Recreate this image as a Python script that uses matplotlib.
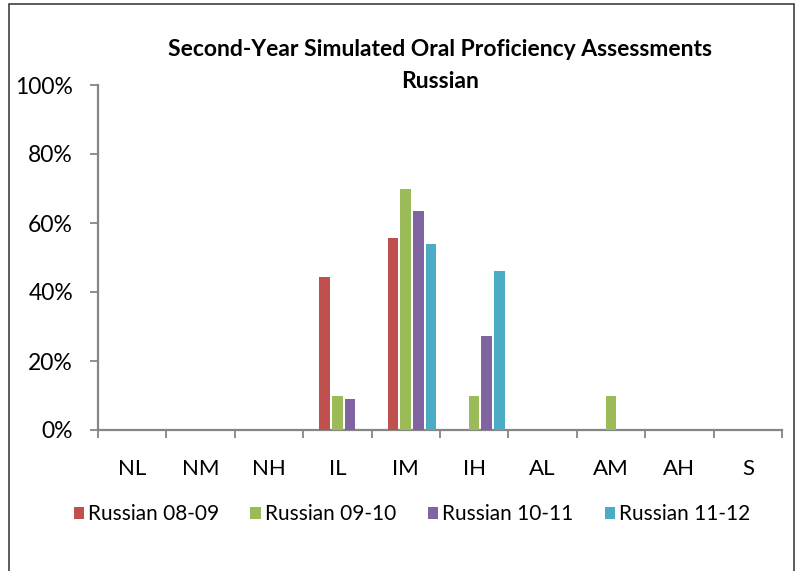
import matplotlib
matplotlib.use("Agg")
import matplotlib.pyplot as plt
from matplotlib.patches import Rectangle
from matplotlib.ticker import PercentFormatter, FixedLocator
import numpy as np

categories = ["NL", "NM", "NH", "IL", "IM", "IH", "AL", "AM", "AH", "S"]
series_names = ["Russian 08-09", "Russian 09-10", "Russian 10-11", "Russian 11-12"]
russian_08_09 = [0, 0, 0, 44.4, 55.6, 0, 0, 0, 0, 0]
russian_09_10 = [0, 0, 0, 10.0, 70.0, 10.0, 0, 10.0, 0, 0]
russian_10_11 = [0, 0, 0, 9.1, 63.6, 27.3, 0, 0, 0, 0]
russian_11_12 = [0, 0, 0, 0, 53.8, 46.2, 0, 0, 0, 0]
colors = ["#C0504D", "#9BBB59", "#8064A2", "#4BACC6"]

FONT = "Lato"
W, H = 801, 571
fig = plt.figure(figsize=(W / 100, H / 100), dpi=100)
ax = fig.add_axes([98 / W, 1 - 430 / H, (782 - 98) / W, (430 - 85) / H])

x = np.arange(len(categories))
pitch = 0.184
width = 0.155
shift = 0.09
all_series = [russian_08_09, russian_09_10, russian_10_11, russian_11_12]
for j, (vals, col, name) in enumerate(zip(all_series, colors, series_names)):
    ax.bar(x + (j - 1.5) * pitch + shift, vals, width=width, color=col,
           label=name, zorder=3)

ax.set_xlim(-0.5, len(categories) - 0.5)
ax.set_ylim(0, 100)
ax.set_yticks([0, 20, 40, 60, 80, 100])
ax.yaxis.set_major_formatter(PercentFormatter(decimals=0))
ax.set_xticks(x)
ax.set_xticklabels(categories)
ax.xaxis.set_minor_locator(FixedLocator(np.arange(-0.5, len(categories), 1.0)))

axis_col = "#868686"
for s in ["top", "right"]:
    ax.spines[s].set_visible(False)
for s in ["left", "bottom"]:
    ax.spines[s].set_color(axis_col)
    ax.spines[s].set_linewidth(1.6)
ax.tick_params(axis="y", which="major", direction="out", length=6, width=1.3,
               color=axis_col, labelsize=16.5, pad=12)
ax.tick_params(axis="x", which="major", length=0, labelsize=16, pad=21)
ax.tick_params(axis="x", which="minor", direction="out", length=6, width=1.3,
               color=axis_col)
for lab in ax.get_xticklabels() + ax.get_yticklabels():
    lab.set_family(FONT)
    lab.set_color("#000000")

fig.text(440 / W, 1 - 50 / H, "Second-Year Simulated Oral Proficiency Assessments",
         ha="center", va="center", fontsize=16.5, fontweight="bold", family=FONT)
fig.text(440 / W, 1 - 81 / H, "Russian", ha="center", va="center",
         fontsize=16.5, fontweight="bold", family=FONT)

leg = fig.legend(loc="center", bbox_to_anchor=(412 / W, 1 - 514 / H), ncol=4,
                 frameon=False, prop={"family": FONT, "size": 15},
                 handlelength=0.5, handleheight=0.5, handletextpad=0.2,
                 columnspacing=1.5, borderpad=0)

fig.patches.append(Rectangle((9 / W, -0.05), (794 - 9) / W, 1.05 - 4 / H,
                             transform=fig.transFigure, fill=False,
                             edgecolor="#404040", linewidth=1.2))

fig.savefig("out.png", dpi=100)
